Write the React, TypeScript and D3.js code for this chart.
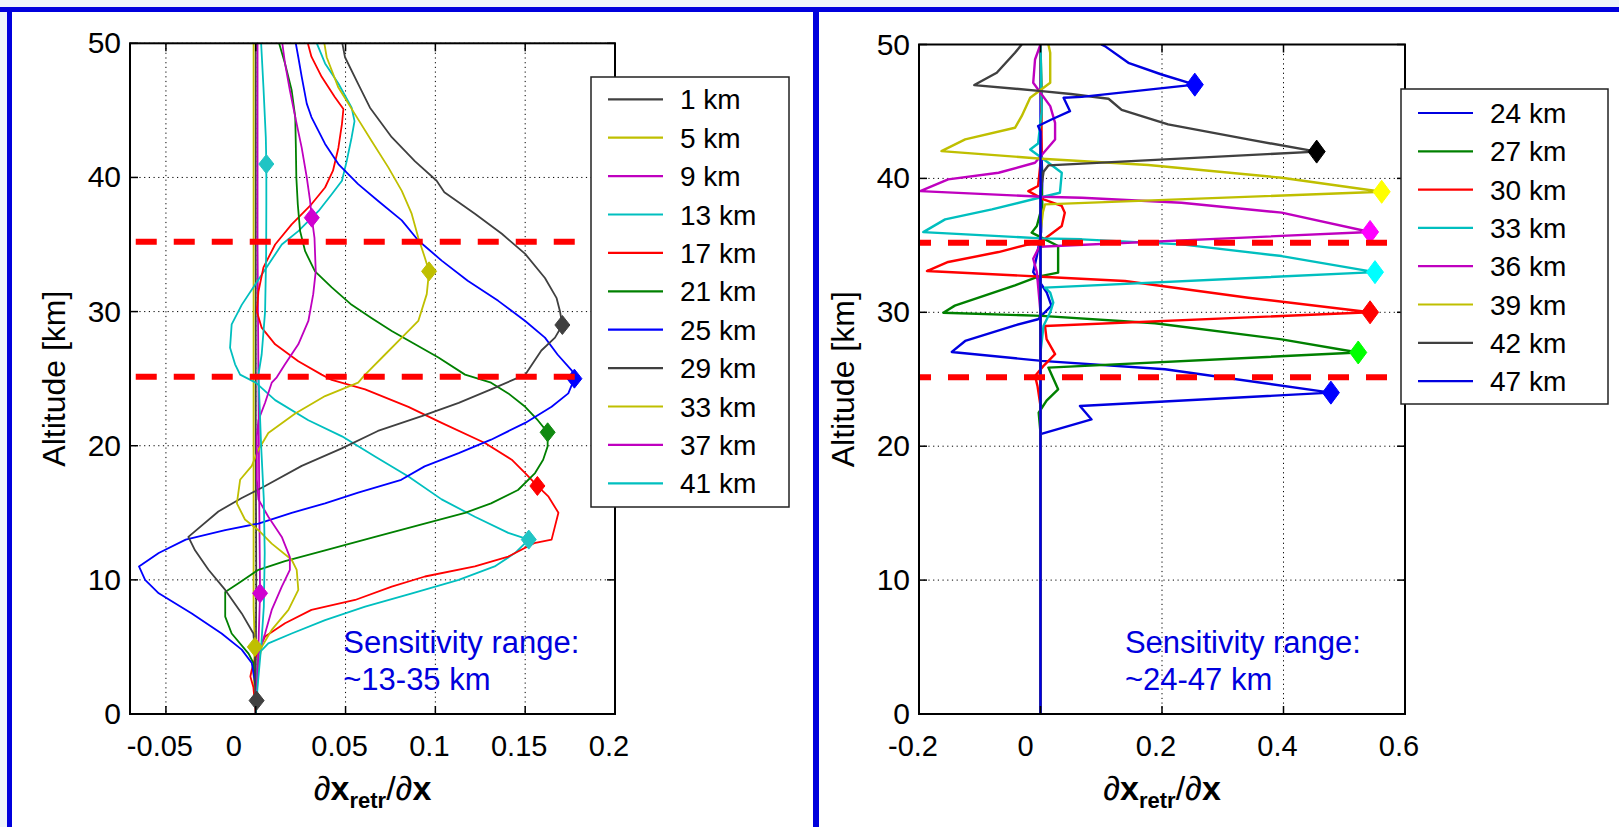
import React from 'react';
import * as d3 from 'd3';

const W = 1619;
const H = 827;

// ---------- Left panel: averaging kernels, 1..41 km ----------
const leftLabels = ['1 km', '5 km', '9 km', '13 km', '17 km', '21 km', '25 km', '29 km', '33 km', '37 km', '41 km'];
const leftPeaks = [1, 5, 9, 13, 17, 21, 25, 29, 33, 37, 41];
const leftK1 = [[0, 0], [0.0005, 1], [0, 3], [0.0003, 10], [0, 20], [0, 30], [0, 40], [0, 50]];
const leftK5 = [[0, 0], [-0.0012, 3], [-0.0005, 5], [-0.0012, 8], [-0.0012, 20], [-0.0012, 35], [-0.0012, 50]];
const leftK9 = [[0, 0], [0.001, 3], [0.0024, 9], [0.002, 15], [0.0015, 25], [0.001, 35], [0.001, 50]];
const leftK13 = [[0, 0], [0.0006, 2], [0.0015, 4.5], [0.007, 5.27], [0.02, 6.0], [0.0386, 7.0], [0.0609, 8.0], [0.087, 9.0], [0.113, 10.0], [0.133, 11.0], [0.1443, 12.0], [0.152, 13.0], [0.1406, 13.5], [0.122, 14.7], [0.1035, 16.0], [0.085, 17.7], [0.0664, 19.2], [0.048, 20.7], [0.0293, 21.9], [0.0108, 23.4], [0, 24.7], [-0.0087, 25.3], [-0.0115, 26.07], [-0.0143, 27.3], [-0.0134, 29.05], [-0.0078, 30.5], [-0.0004, 32.0], [0.007, 33.5], [0.0145, 35.0], [0.0237, 36.0], [0.035, 37.5], [0.0423, 38.75], [0.048, 39.75], [0.0506, 41.2], [0.0534, 43.0], [0.055, 44.2], [0.0534, 45.2], [0.046, 47.0], [0.0386, 48.5], [0.034, 50]];
const leftK17 = [[0, 0], [-0.0013, 2], [-0.003, 2.8], [-0.0022, 3.3], [0.0006, 4.5], [0.0052, 5.77], [0.0163, 6.77], [0.031, 7.76], [0.0553, 8.5], [0.0757, 9.5], [0.0942, 10.25], [0.122, 11.0], [0.1406, 11.74], [0.155, 12.74], [0.1647, 13.0], [0.1685, 15.0], [0.163, 16.2], [0.1568, 17], [0.15, 17.96], [0.1425, 18.96], [0.1276, 20.2], [0.1035, 21.7], [0.085, 22.9], [0.0609, 24.2], [0.0423, 24.9], [0.0367, 25.3], [0.0237, 26.3], [0.0108, 27.56], [0.0033, 28.8], [0.0006, 30.0], [0.0015, 31.5], [0.0043, 33.3], [0.0108, 35.0], [0.02, 36.5], [0.031, 38.0], [0.0386, 39.25], [0.043, 40.5], [0.046, 42.2], [0.048, 44.0], [0.0488, 45.1], [0.044, 46.0], [0.0367, 47.5], [0.031, 49.0], [0.029, 50]];
const leftK21 = [[0, 0], [0, 2], [-0.0013, 3.8], [-0.004, 4.5], [-0.0134, 6.0], [-0.017, 7.26], [-0.017, 9.1], [-0.0096, 9.75], [0.0015, 10.75], [0.0163, 11.4], [0.0386, 12.2], [0.0664, 13.2], [0.094, 14.2], [0.1165, 15.0], [0.131, 15.7], [0.146, 16.7], [0.1555, 17.96], [0.16, 18.96], [0.1625, 19.95], [0.1625, 21], [0.157, 21.9], [0.15, 22.9], [0.1406, 23.9], [0.131, 24.7], [0.1165, 25.3], [0.1017, 26.57], [0.0887, 27.56], [0.0757, 28.55], [0.0646, 29.5], [0.0534, 30.5], [0.0423, 31.8], [0.033, 33.0], [0.0275, 34.5], [0.0247, 36], [0.0234, 38], [0.0226, 40], [0.0223, 42.5], [0.022, 44.5], [0.02, 46.5], [0.0163, 48.5], [0.013, 50]];
const leftK25 = [[0, 0], [0, 2], [-0.0022, 3.8], [-0.0078, 4.8], [-0.019, 6.0], [-0.0356, 7.5], [-0.054, 9.0], [-0.0616, 10.0], [-0.065, 11.0], [-0.054, 12.0], [-0.039, 13.0], [-0.017, 13.7], [0.0015, 14.2], [0.02, 15.0], [0.0386, 15.7], [0.057, 16.5], [0.081, 17.46], [0.094, 18.46], [0.113, 19.45], [0.131, 20.45], [0.15, 21.7], [0.1647, 22.9], [0.174, 23.9], [0.1774, 25], [0.176, 25.6], [0.168, 26.8], [0.161, 28.06], [0.15, 29.3], [0.135, 30.8], [0.118, 32.3], [0.1035, 33.8], [0.0905, 35.3], [0.0813, 36.8], [0.068, 38.26], [0.057, 39.5], [0.046, 41.0], [0.0386, 42.5], [0.031, 44.5], [0.0284, 45.5], [0.0256, 47.5], [0.0237, 48.96], [0.0223, 50]];
const leftK29 = [[0, 0], [-0.0004, 4.5], [-0.0013, 6.0], [-0.0078, 7.5], [-0.017, 9.25], [-0.0263, 10.75], [-0.0338, 12.2], [-0.0375, 13.2], [-0.0208, 15.1], [-0.0078, 16.1], [0.0052, 17.0], [0.0256, 18.5], [0.0479, 19.8], [0.068, 21.1], [0.0924, 22.2], [0.113, 23.2], [0.131, 24.2], [0.15, 25.3], [0.159, 27.1], [0.1666, 28.06], [0.1707, 29], [0.1694, 30.0], [0.1675, 31.0], [0.161, 32.5], [0.15, 34.3], [0.137, 35.8], [0.122, 37.3], [0.105, 38.9], [0.1007, 39.75], [0.0887, 41.2], [0.0757, 43.0], [0.0636, 45.2], [0.057, 46.97], [0.0497, 48.96], [0.0482, 50]];
const leftK33 = [[0, 0], [0.0015, 3.8], [0.0033, 5.0], [0.0089, 6.27], [0.0182, 7.76], [0.0237, 9.25], [0.0228, 10.75], [0.02, 11.5], [0.0089, 12.7], [0.0015, 13.7], [-0.006, 14.5], [-0.0105, 15.7], [-0.0087, 17.46], [-0.0022, 18.5], [0.0015, 19.7], [0.007, 20.95], [0.022, 22.4], [0.0386, 23.7], [0.057, 24.7], [0.0609, 25.3], [0.072, 26.8], [0.0813, 28.06], [0.0905, 29.3], [0.0952, 31.3], [0.0965, 33], [0.0942, 34.0], [0.0905, 35.5], [0.0868, 37.3], [0.0813, 39.0], [0.0738, 40.75], [0.0646, 42.7], [0.0553, 44.7], [0.046, 46.7], [0.0395, 48.96], [0.0382, 50]];
const leftK37 = [[0, 0], [0.0006, 2], [0.0015, 4.5], [0.0052, 6.0], [0.0089, 7.76], [0.0145, 9.5], [0.019, 10.75], [0.019, 11.7], [0.0145, 13.2], [0.007, 14.7], [0.0015, 16.0], [0.0006, 17.5], [0.0006, 19.2], [0.0006, 20.7], [0.0015, 21.9], [0.0052, 23.2], [0.0089, 24.7], [0.0117, 25.1], [0.0163, 26.07], [0.0237, 27.56], [0.0293, 29.3], [0.032, 31.3], [0.0334, 33.0], [0.0327, 35.5], [0.0312, 37], [0.0302, 38.3], [0.0284, 40], [0.0256, 42.2], [0.022, 44.5], [0.019, 46.5], [0.0163, 48.5], [0.0148, 50]];
const leftK41 = [[0, 0], [0.001, 2], [0.003, 5], [0.0045, 8], [0.005, 12], [0.0045, 16], [0.003, 20], [0.0015, 25.3], [0.0033, 26.8], [0.0052, 30], [0.0058, 34.3], [0.0059, 38], [0.0059, 41], [0.0056, 43], [0.0043, 46.7], [0.003, 50]];
const leftKernels = [leftK1, leftK5, leftK9, leftK13, leftK17, leftK21, leftK25, leftK29, leftK33, leftK37, leftK41];
const leftXTicks = [-0.05, 0, 0.05, 0.1, 0.15, 0.2];
const leftXTickLabels = ['-0.05', '0', '0.05', '0.1', '0.15', '0.2'];
const leftNote = ['Sensitivity range:', '~13-35 km'];

// ---------- Right panel: averaging kernels, 24..47 km ----------
const rightLabels = ['24 km', '27 km', '30 km', '33 km', '36 km', '39 km', '42 km', '47 km'];
const rightPeaks = [24, 27, 30, 33, 36, 39, 42, 47];
const rightK24 = [[0, 0], [0, 20.9], [0.084, 22.0], [0.065, 23.0], [0.478, 24], [0.205, 25.75], [0.002, 26.37], [-0.146, 27.04], [-0.124, 27.86], [-0.042, 29.03], [-0.004, 29.48], [0.018, 30.5], [0.01, 31.5], [-0.012, 33.0], [-0.006, 34.2], [0.001, 36], [0.003, 40], [0, 44], [0, 50]];
const rightK27 = [[0, 0], [0, 21], [-0.003, 22.5], [0.01, 23.4], [0.029, 24.25], [0.013, 25.87], [0.523, 27], [0.397, 27.98], [0.1885, 29.18], [0.002, 29.73], [-0.16, 29.97], [-0.141, 30.5], [-0.042, 32.01], [-0.004, 32.66], [0.029, 32.96], [0.029, 34.95], [0.005, 35.5], [-0.0145, 35.95], [-0.006, 36.44], [0.003, 38], [0, 42], [0.002, 46], [0, 50]];
const rightK30 = [[0, 0], [0, 23], [-0.005, 24.5], [-0.009, 25.25], [0.005, 26.0], [0.024, 26.87], [0.01, 28.0], [0.0074, 28.98], [0.5425, 30], [0.342, 31.09], [0.139, 32.34], [0.002, 32.66], [-0.187, 33.08], [-0.152, 33.76], [-0.069, 34.5], [0.002, 35.32], [0.035, 36.44], [0.04, 37.44], [0.035, 37.94], [0.005, 38.43], [-0.02, 39.05], [-0.004, 39.43], [0.002, 42], [0, 50]];
const rightK33 = [[0, 0], [0, 27], [0.005, 29], [0.016, 30], [0.021, 30.72], [0.016, 31.47], [0.0074, 31.84], [0.5506, 33], [0.397, 34.2], [0.232, 35.07], [0.068, 35.45], [0.002, 35.52], [-0.193, 35.99], [-0.157, 36.94], [-0.08, 37.69], [-0.009, 38.48], [0.032, 38.93], [0.035, 40.42], [0.013, 41.17], [-0.017, 42.16], [-0.004, 42.6], [0.002, 45], [0, 50]];
const rightK36 = [[0, 0], [0, 30], [-0.006, 33.0], [-0.012, 34.0], [-0.002, 34.9], [0.5425, 36], [0.397, 37.44], [0.232, 38.18], [0.068, 38.56], [0.002, 38.63], [-0.198, 39.05], [-0.152, 39.93], [-0.069, 40.42], [-0.009, 41.17], [0.024, 42.91], [0.024, 44.15], [0.016, 45.4], [-0.012, 47.14], [-0.009, 48.88], [0, 50]];
const rightK39 = [[0, 0], [0, 36], [0.004, 37.5], [0.0074, 38.06], [0.5616, 39], [0.397, 40.05], [0.1775, 41.0], [0.002, 41.47], [-0.163, 42.04], [-0.124, 42.91], [-0.042, 43.78], [-0.031, 44.65], [-0.017, 46.02], [0, 46.6], [0.016, 47.14], [0.016, 49.38], [0.013, 50]];
const rightK42 = [[0, 0], [0, 39], [0.005, 40.5], [0.0129, 40.97], [0.4546, 42], [0.342, 42.91], [0.21, 44.03], [0.1336, 45.12], [0.112, 45.95], [0.05, 46.3], [0.002, 46.52], [-0.109, 46.97], [-0.072, 47.89], [-0.042, 49.38], [-0.031, 50]];
const rightK47 = [[0, 0], [0, 43.5], [-0.004, 43.91], [0.018, 44.4], [0.0486, 45.02], [0.038, 46.02], [0.068, 46.09], [0.254, 47], [0.1994, 47.76], [0.1446, 48.63], [0.106, 49.88], [0.1, 50]];
const rightKernels = [rightK24, rightK27, rightK30, rightK33, rightK36, rightK39, rightK42, rightK47];
const rightXTicks = [-0.2, 0, 0.2, 0.4, 0.6];
const rightXTickLabels = ['-0.2', '0', '0.2', '0.4', '0.6'];
const rightNote = ['Sensitivity range:', '~24-47 km'];

const yTicks = [0, 10, 20, 30, 40, 50];
const rangeAlts = [25.15, 35.2];

// ---------- styles ----------
const GREY = '#404040', OLIVE = '#bfbf00', MAG = '#bf00bf', CYAN = '#00bfbf', RED = '#ff0000', GREEN = '#008000', BLUE = '#0000ff';
const leftLineColors = [GREY, OLIVE, MAG, CYAN, RED, GREEN, BLUE, GREY, OLIVE, MAG, CYAN];
const leftMarkerColors = [GREY, OLIVE, '#d000d0', '#20c4c4', RED, '#108a10', BLUE, GREY, OLIVE, '#d000d0', '#20c4c4'];
const rightLineColors = ['#0000e0', GREEN, RED, CYAN, MAG, OLIVE, GREY, '#0000e0'];
const rightMarkerColors = [BLUE, '#00ff00', RED, '#00ffff', '#ff00ff', '#ffff00', '#000000', BLUE];

const FONT = '"Liberation Sans", Arial, Helvetica, sans-serif';

type PanelProps = {
  id: string;
  xDomain: [number, number];
  xRange: [number, number];
  yTop: number;
  yBottom: number;
  kernels: number[][][];
  peaks: number[];
  labels: string[];
  lineColors: string[];
  markerColors: string[];
  xTicks: number[];
  xTickLabels: string[];
  zeroDx: number;
  lineWidth: number;
  mk: [number, number];
  dashX: [number, number];
  dashOffset: number;
  legend: { x: number; y: number; w: number; h: number; row0: number; step: number };
  note: string[];
  noteX: number;
};

function Panel(p: PanelProps) {
  const x = d3.scaleLinear().domain(p.xDomain).range(p.xRange);
  const y = d3.scaleLinear().domain([0, 50]).range([p.yBottom, p.yTop]);
  const line = d3.line<number[]>().x((d) => x(d[0])).y((d) => y(d[1]));
  const [x0, x1] = p.xRange;
  const tick = 8;
  const midY = (p.yTop + p.yBottom) / 2;
  const midX = (x0 + x1) / 2;
  const L = p.legend;
  return (
    <g>
      <defs>
        <clipPath id={p.id}>
          <rect x={x0} y={p.yTop} width={x1 - x0} height={p.yBottom - p.yTop} />
        </clipPath>
      </defs>
      {/* grid */}
      {p.xTicks.map((t, i) => (
        <line key={'gx' + i} x1={x(t)} x2={x(t)} y1={p.yTop} y2={p.yBottom} stroke="#000" strokeWidth={1} strokeDasharray="1.2,3.5" />
      ))}
      {yTicks.map((t, i) => (
        <line key={'gy' + i} x1={x0} x2={x1} y1={y(t)} y2={y(t)} stroke="#000" strokeWidth={1} strokeDasharray="1.2,3.5" />
      ))}
      {/* curves */}
      <g clipPath={`url(#${p.id})`}>
        {p.kernels.map((k, i) => (
          <path key={'c' + i} d={line(k) || ''} fill="none" stroke={p.lineColors[i]} strokeWidth={p.lineWidth} strokeLinejoin="round" />
        ))}
      </g>
      {/* markers */}
      {p.kernels.map((k, i) => {
        const pt = k.find((d) => d[1] === p.peaks[i]) || [0, p.peaks[i]];
        const cx = x(pt[0]);
        const cy = y(pt[1]);
        const [hw, hh] = p.mk;
        return (
          <path key={'m' + i} d={`M${cx},${cy - hh}L${cx + hw},${cy}L${cx},${cy + hh}L${cx - hw},${cy}Z`} fill={p.markerColors[i]} stroke={p.markerColors[i]} strokeWidth={1} />
        );
      })}
      {/* sensitivity range lines */}
      {rangeAlts.map((a, i) => (
        <line key={'r' + i} x1={x(p.dashX[0])} x2={x(p.dashX[1])} y1={y(a)} y2={y(a)} stroke="#ff0000" strokeWidth={6} strokeDasharray="21,17" strokeDashoffset={p.dashOffset} />
      ))}
      {/* axes box */}
      <rect x={x0} y={p.yTop} width={x1 - x0} height={p.yBottom - p.yTop} fill="none" stroke="#000" strokeWidth={2} />
      {p.xTicks.map((t, i) => (
        <g key={'tx' + i}>
          <line x1={x(t)} x2={x(t)} y1={p.yBottom} y2={p.yBottom - tick} stroke="#000" strokeWidth={1.5} />
          <line x1={x(t)} x2={x(t)} y1={p.yTop} y2={p.yTop + tick} stroke="#000" strokeWidth={1.5} />
          <text x={x(t) + (t === 0 ? p.zeroDx : -6)} y={756} textAnchor="middle" fontSize={29} fontFamily={FONT} fill="#000">
            {p.xTickLabels[i]}
          </text>
        </g>
      ))}
      {yTicks.map((t, i) => (
        <g key={'ty' + i}>
          <line x1={x0} x2={x0 + tick} y1={y(t)} y2={y(t)} stroke="#000" strokeWidth={1.5} />
          <line x1={x1} x2={x1 - tick} y1={y(t)} y2={y(t)} stroke="#000" strokeWidth={1.5} />
          <text x={x0 - 9} y={y(t) + 10} textAnchor="end" fontSize={30} fontFamily={FONT} fill="#000">
            {t}
          </text>
        </g>
      ))}
      {/* axis labels */}
      <text x={midX} y={800} textAnchor="middle" fontSize={34} fontFamily={FONT} fill="#000">
        <tspan>∂</tspan>
        <tspan fontWeight="bold">x</tspan>
        <tspan fontWeight="bold" fontSize={22} dy={8}>retr</tspan>
        <tspan dy={-8}>/∂</tspan>
        <tspan fontWeight="bold">x</tspan>
      </text>
      <text transform={`translate(${x0 - 76},${midY}) rotate(-90)`} textAnchor="middle" dominantBaseline="central" fontSize={32} fontFamily={FONT} fill="#000">
        Altitude [km]
      </text>
      {/* note */}
      {p.note.map((s, i) => (
        <text key={'n' + i} x={x(p.noteX)} y={653 + i * 37} fontSize={31} fontFamily={FONT} fill="#0000dd">
          {s}
        </text>
      ))}
      {/* legend */}
      <rect x={L.x} y={L.y} width={L.w} height={L.h} fill="#fff" stroke="#222" strokeWidth={1.5} />
      {p.labels.map((s, i) => {
        const ly = L.row0 + i * L.step;
        return (
          <g key={'l' + i}>
            <line x1={L.x + 17} x2={L.x + 72} y1={ly} y2={ly} stroke={p.lineColors[i]} strokeWidth={2.2} />
            <text x={L.x + 89} y={ly + 10} fontSize={28} fontFamily={FONT} fill="#000">
              {s}
            </text>
          </g>
        );
      })}
    </g>
  );
}

export default function App() {
  return (
    <div style={{ position: 'absolute', left: 0, top: 0, width: W, height: H }}>
      <svg width={W} height={H} viewBox={`0 0 ${W} ${H}`} style={{ display: 'block' }}>
        <rect x={0} y={0} width={W} height={H} fill="#eef4fb" />
        <rect x={12} y={12} width={W - 12} height={H - 12} fill="#ffffff" />
        <Panel
          id="clipL"
          xDomain={[-0.07, 0.2]}
          xRange={[130, 615]}
          yTop={43.3}
          yBottom={714}
          kernels={leftKernels}
          peaks={leftPeaks}
          labels={leftLabels}
          lineColors={leftLineColors}
          markerColors={leftMarkerColors}
          xTicks={leftXTicks}
          xTickLabels={leftXTickLabels}
          zeroDx={-22}
          lineWidth={1.8}
          mk={[7.5, 9.5]}
          dashX={[-0.0668, 0.18]}
          dashOffset={0}
          legend={{ x: 591, y: 77, w: 198, h: 430, row0: 99.3, step: 38.4 }}
          note={leftNote}
          noteX={0.0487}
        />
        <Panel
          id="clipR"
          xDomain={[-0.2, 0.6]}
          xRange={[919, 1405]}
          yTop={44.5}
          yBottom={714}
          kernels={rightKernels}
          peaks={rightPeaks}
          labels={rightLabels}
          lineColors={rightLineColors}
          markerColors={rightMarkerColors}
          xTicks={rightXTicks}
          xTickLabels={rightXTickLabels}
          zeroDx={-15}
          lineWidth={2.4}
          mk={[8.5, 11.5]}
          dashX={[-0.2, 0.576]}
          dashOffset={9}
          legend={{ x: 1401, y: 89, w: 207, h: 315, row0: 113, step: 38.3 }}
          note={rightNote}
          noteX={0.1389}
        />
        {/* outer frame */}
        <line x1={0} x2={W} y1={9.5} y2={9.5} stroke="#0000dd" strokeWidth={5} />
        <line x1={9.5} x2={9.5} y1={7} y2={H} stroke="#0000dd" strokeWidth={5} />
        <line x1={816} x2={816} y1={7} y2={H} stroke="#0000dd" strokeWidth={6} />
      </svg>
    </div>
  );
}
